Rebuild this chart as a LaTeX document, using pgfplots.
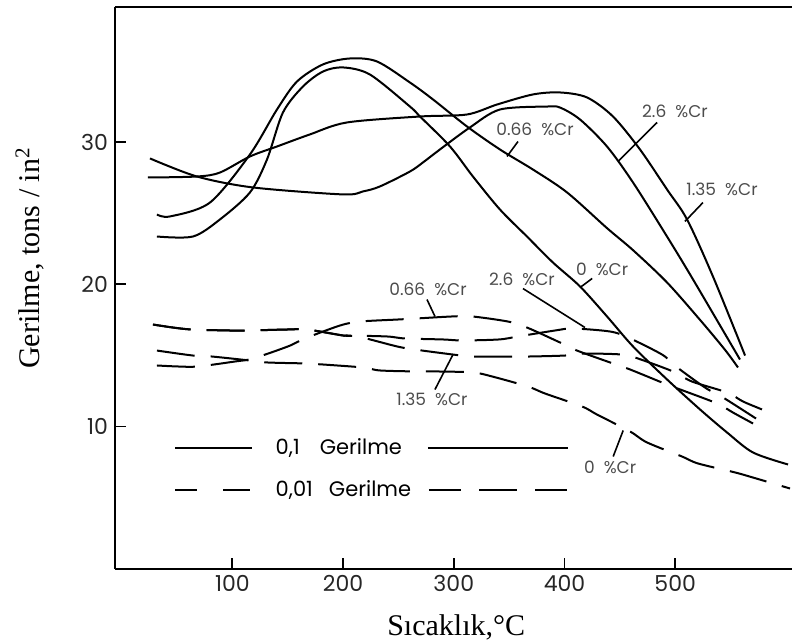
\documentclass[border=0pt]{standalone}
\usepackage{fontspec}
\setmainfont{Liberation Serif}
\newfontfamily\gfont{Poppins}
\usepackage{pgfplots}
\pgfplotsset{compat=1.18}
\tikzset{
  lab/.style={font=\gfont\fontsize{8.5}{10}\selectfont, text=black!70, inner sep=0pt},
  sl/.style={black, line width=1pt, smooth, mark=none},
  dl/.style={sl, dash pattern=on 19pt off 8pt},
}

\begin{document}
\begin{tikzpicture}
\begin{axis}[
  scale only axis, width=338.5pt, height=280.85pt,
  xmin=-6, xmax=605.5, ymin=0, ymax=39.5,
  axis x line=bottom, axis y line=left,
  axis line style={-, line width=1pt},
  xtick={100,200,300,400,500}, ytick={10,20,30},
  tick align=inside, major tick length=5.5pt,
  tick style={line width=0.9pt, black},
  ticklabel style={font=\gfont\fontsize{11}{13}\selectfont, text=black!85},
  /pgf/number format/assume math mode=true,
  xlabel={Sıcaklık,°C},
  ylabel={Gerilme, tons / in\textsuperscript{2}},
  xlabel style={at={(rel axis cs:0.504,-0.105)}, anchor=center, font=\fontsize{15}{18}\selectfont},
  ylabel style={at={(rel axis cs:-0.1256,0.553)}, anchor=center, font=\fontsize{15}{18}\selectfont},
  clip=false,
]
\draw[line width=1pt] (rel axis cs:0,1) -- (rel axis cs:1,1);

% 0.1 Gerilme (solid)
% 0 %Cr
\addplot[sl] coordinates {
(31.9,23.36) (64.4,23.36) (88.8,24.56) (115.9,26.46) (131.3,28.78) (145.7,32.08)
(163.8,33.91) (181.8,34.96) (199.9,35.25) (224.3,34.75) (260.4,32.5) (269.5,31.8)
(296.6,29.69) (317.3,27.58) (341.7,25.26) (366.1,23.36) (389.6,21.53) (414,19.85)
(438.4,17.74) (461.9,15.63) (492.6,13.31) (522.4,11.2) (546.8,9.58) (570.3,8.17) (601.9,7.33)};
% 0.66 %Cr
\addplot[sl] coordinates {
(31.9,24.91) (43.6,24.77) (79.8,25.75) (115.9,29.13) (140.3,32.29) (158.4,34.26)
(181.8,35.46) (206.2,35.88) (230.6,35.67) (260.4,34.19) (281.2,33.0) (311.9,31.1)
(341.7,29.48) (371.5,28.07) (402.3,26.46) (438.4,23.95) (461.9,22.4) (492.6,20.13)
(522.4,17.5) (544.9,15.4) (556.7,14.15)};
% 1.35 %Cr
\addplot[sl] coordinates {
(23.8,27.51) (68,27.58) (88.8,27.86) (115.9,28.99) (140.3,29.69) (170.1,30.54)
(203.5,31.38) (269.5,31.8) (311.9,31.94) (339,32.64) (371.5,33.35) (395.9,33.49)
(420.3,33.14) (443.8,31.8) (468.2,29.48) (492.6,26.67) (510.7,24.56) (534.1,20.55) (563.1,14.99)};
% 2.6 %Cr
\addplot[sl] coordinates {
(25.6,28.85) (68,27.58) (118.6,26.81) (199.9,26.32) (218,26.53) (233.3,26.88)
(260.4,27.93) (272.2,28.57) (287.5,29.48) (314.6,31.03) (341.7,32.29) (384.2,32.5)
(395.9,32.43) (414,31.59) (438.4,29.69) (461.9,27.16) (492.6,23.36) (516.1,20.34) (558.5,14.71)};

% 0.01 Gerilme (dashed)
% 0 %Cr
\addplot[dl] coordinates {
(31.9,15.34) (64.4,14.99) (81.6,14.92) (115.9,14.64) (132.2,14.50) (167.4,14.43)
(181.8,14.36) (218,14.15) (233.3,13.94) (266.8,13.87) (284.8,13.87) (317.3,13.8)
(334.5,13.52) (367,12.81) (382.4,12.32) (415.8,11.41) (429.4,10.84) (459.2,9.65)
(474.5,8.88) (506.1,7.89) (520.6,7.40) (554,6.77) (570.3,6.41) (603.7,5.64)};
% 0.66 %Cr
\addplot[dl] coordinates {
(31.9,14.29) (50.9,14.22) (68.9,14.22) (102.3,14.57) (118.6,14.78) (150.2,15.63)
(165.6,16.19) (197.2,17.10) (215.3,17.38) (248.7,17.52) (265,17.59) (299.3,17.74)
(316.4,17.74) (349,17.38) (366.1,16.96) (395.9,15.91) (411.3,15.34) (443.8,14.43)
(459.2,14.01) (492.6,12.95) (507,12.53) (537.8,11.62) (552.2,10.98) (570.3,10.21)};
% 1.35 %Cr
\addplot[dl] coordinates {
(28.3,17.17) (46.3,16.96) (63.5,16.82) (97.8,16.75) (114.1,16.75) (149.3,16.82)
(167.4,16.82) (199.9,16.4) (213.5,16.33) (248.7,15.63) (265,15.41) (299.3,15.06)
(316.4,14.92) (349,14.92) (367,14.92) (400.5,14.99) (416.7,15.13) (451.9,15.06)
(466.4,14.78) (498,13.87) (515.2,13.16) (546.8,12.39) (561.2,11.76) (578.4,11.2)};
% 2.6 %Cr
\addplot[dl] coordinates {
(28.3,17.17) (46.3,16.96) (63.5,16.82) (97.8,16.75) (114.1,16.75) (149.3,16.82)
(167.4,16.82) (199.9,16.4) (203.5,16.4) (239.7,16.33) (255.9,16.19) (290.2,16.12)
(307.4,16.05) (340.8,16.12) (358,16.33) (391.4,16.75) (407.7,16.89) (441.1,16.68)
(457.4,16.26) (488.1,15.06) (500.7,14.22) (526.9,12.74) (543.2,12.04) (573,10.56)};

% curve labels and leaders
\node[lab] at (axis cs:499.8,32.15) {2.6~~\%Cr};
\draw[line width=0.8pt] (axis cs:483.7,31.38) -- (axis cs:448.4,28.64);
\node[lab] at (axis cs:542.3,26.67) {1.35~~\%Cr};
\draw[line width=0.8pt] (axis cs:525.1,25.75) -- (axis cs:508.8,24.42);
\node[lab] at (axis cs:373.4,30.89) {0.66~~\%Cr};
\draw[line width=0.8pt] (axis cs:358,30.04) -- (axis cs:348.1,28.99);
\node[lab] at (axis cs:434,21.04) {0~~\%Cr};
\draw[line width=0.8pt] (axis cs:425,20.41) -- (axis cs:414,19.77);
\node[lab] at (axis cs:361.6,20.34) {2.6~~\%Cr};
\draw[line width=0.8pt] (axis cs:362.5,19.70) -- (axis cs:418.5,16.96);
\node[lab] at (axis cs:276.7,19.63) {0.66~~\%Cr};
\draw[line width=0.8pt] (axis cs:275.8,18.93) -- (axis cs:283,17.74);
\node[lab] at (axis cs:280.3,11.9) {1.35~~\%Cr};
\draw[line width=0.8pt] (axis cs:299.3,15.06) -- (axis cs:283,12.6);
\node[lab] at (axis cs:441.2,7.12) {0~~\%Cr};
\draw[line width=0.8pt] (axis cs:453,9.72) -- (axis cs:444,7.89);

% legend
\draw[line width=1pt] (axis cs:48.4,8.52) -- (axis cs:118,8.52);
\draw[line width=1pt] (axis cs:276.7,8.52) -- (axis cs:403.2,8.52);
\node[anchor=west, inner sep=0pt, font=\gfont\fontsize{10.5}{12}\selectfont] at (axis cs:138.8,8.52) {0,1\hspace{10pt}Gerilme};
\draw[line width=1pt] (axis cs:48.4,5.56) -- (axis cs:68.3,5.56);
\draw[line width=1pt] (axis cs:91.8,5.56) -- (axis cs:116.2,5.56);
\draw[line width=1pt] (axis cs:277.6,5.56) -- (axis cs:306.5,5.56);
\draw[line width=1pt] (axis cs:322.8,5.56) -- (axis cs:357.1,5.56);
\draw[line width=1pt] (axis cs:373.4,5.56) -- (axis cs:402.3,5.56);
\node[anchor=west, inner sep=0pt, font=\gfont\fontsize{10.5}{12}\selectfont] at (axis cs:138.8,5.56) {0,01\hspace{8pt}Gerilme};
\end{axis}
\pgfresetboundingbox
\useasboundingbox ([shift={(-57.5pt,-36.5pt)}]current axis.south west) rectangle ([shift={(0pt,3.5pt)}]current axis.north east);
\end{tikzpicture}
\end{document}
